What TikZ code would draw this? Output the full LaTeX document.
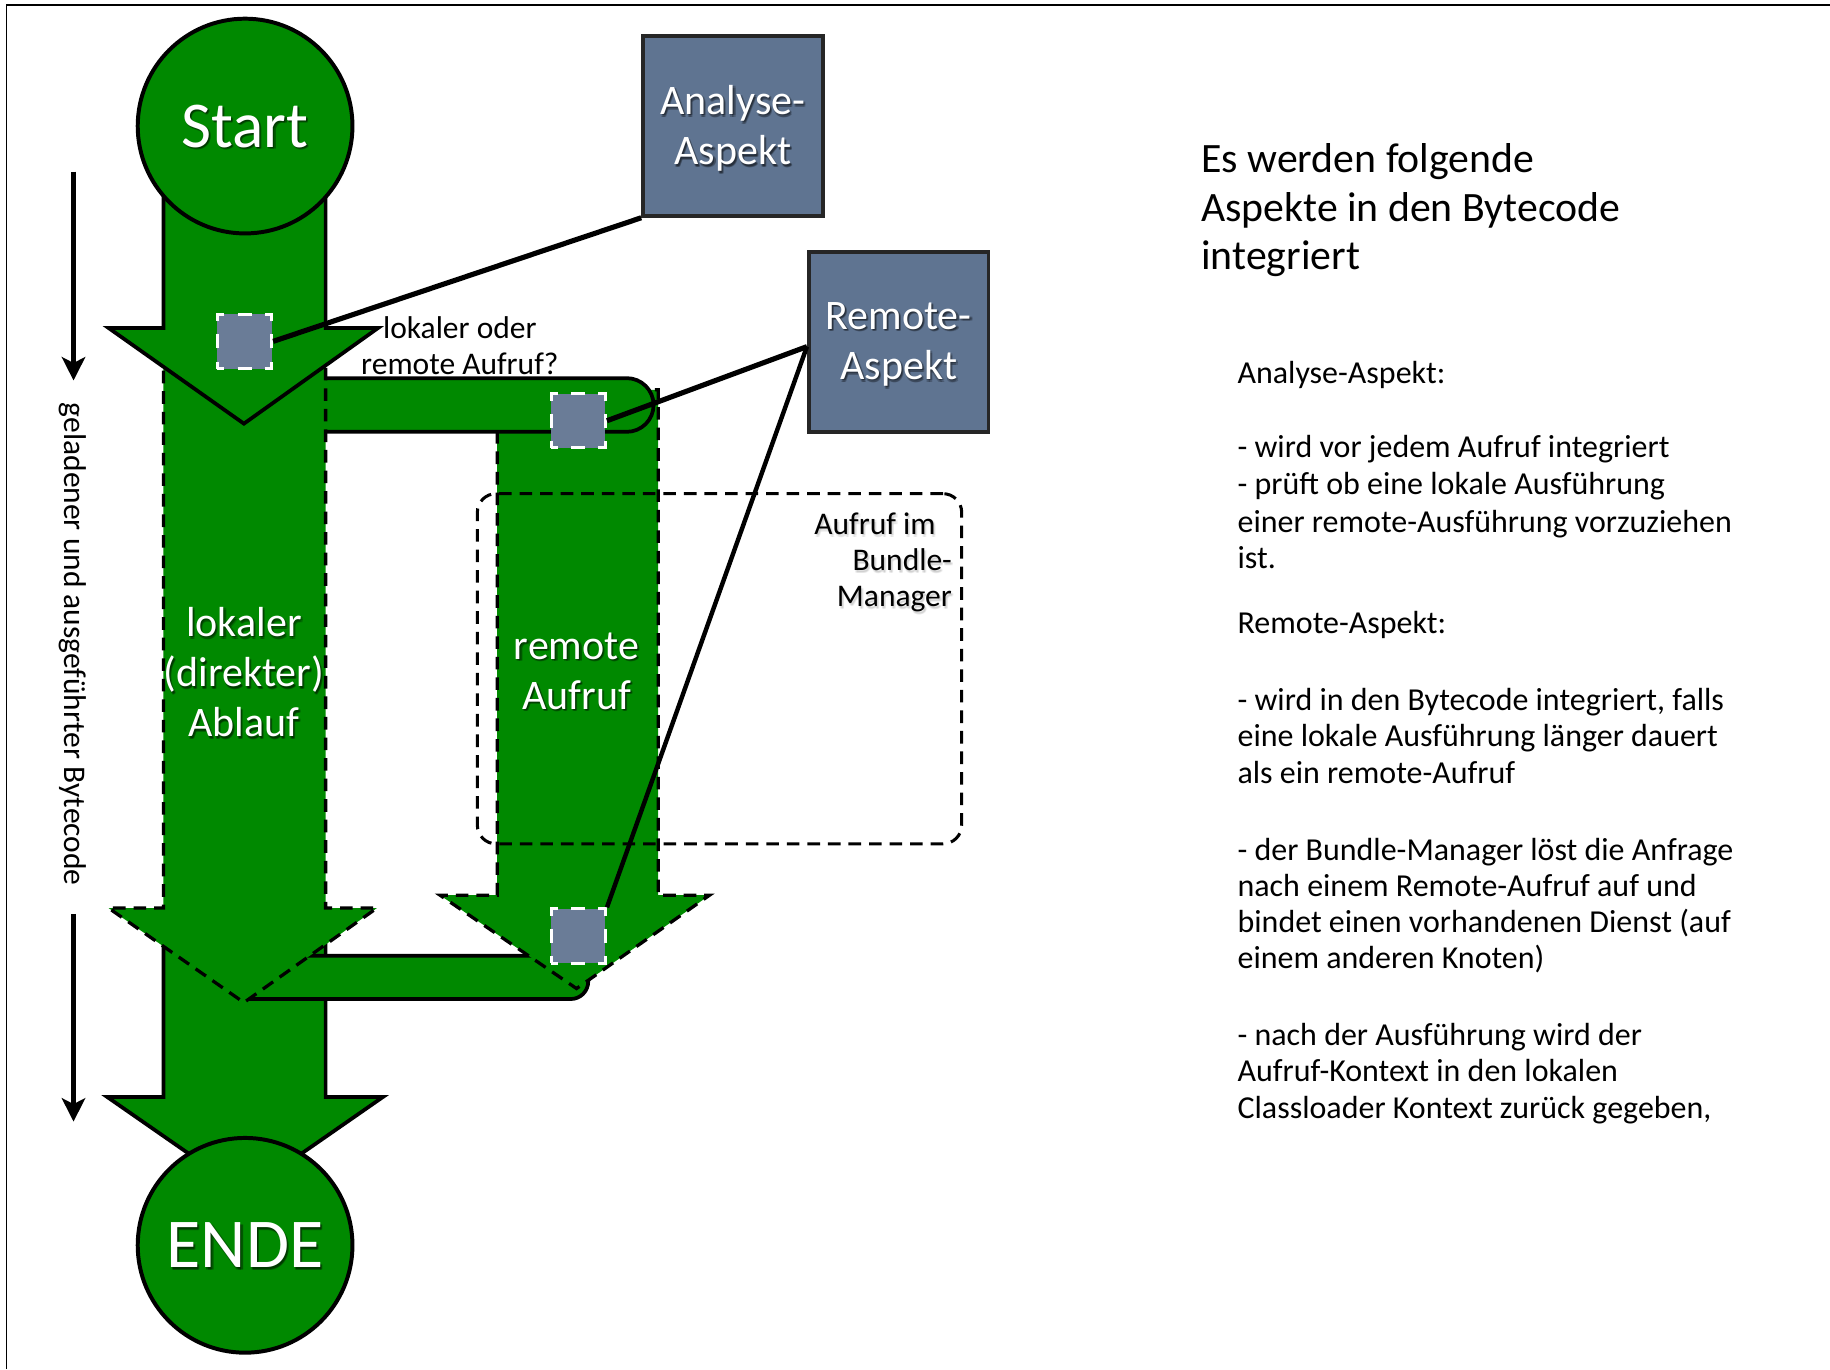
\documentclass[tikz,border=0pt]{standalone}
\usepackage{fontspec}
\setmainfont{Carlito}
\usetikzlibrary{arrows.meta}

\definecolor{flowgreen}{RGB}{0,137,0}
\definecolor{aspectblue}{RGB}{95,116,145}
\definecolor{markblue}{RGB}{106,124,151}

\tikzset{
  flowsolid/.style={fill=flowgreen, draw=black, line width=1.6pt, line join=miter},
  flowdashed/.style={fill=flowgreen, draw=black, line width=1.4pt, dash pattern=on 5.4pt off 3.4pt},
  terminal/.style={circle, fill=flowgreen, draw=black, line width=1.7pt, minimum size=92pt, inner sep=0pt},
  aspectbox/.style={rectangle, fill=aspectblue, draw=black!85, line width=1.6pt, minimum size=77pt, inner sep=0pt},
  marker/.style={rectangle, fill=markblue, draw=white, line width=1.3pt,
    dash pattern=on 6pt off 5.625pt, dash phase=3pt, minimum size=23.25pt, inner sep=0pt},
  regionbox/.style={rectangle, draw=black, line width=1.3pt, dash pattern=on 5.4pt off 3.4pt,
    rounded corners=8pt, minimum width=207.5pt, minimum height=150pt, inner sep=0pt},
  link/.style={draw=black, line width=2.2pt},
  timeline/.style={draw=black, line width=1.9pt, -{Stealth[length=10pt,width=10pt,inset=2.5pt]}},
  bigword/.style={text=white, inner sep=0pt, align=center},
  flowword/.style={text=white, inner sep=0pt, align=center, font=\fontsize{18}{21.5}\selectfont},
  smallword/.style={text=black, inner sep=0pt, font=\fontsize{13.5}{15.5}\selectfont},
  titleline/.style={anchor=base west, inner sep=0pt, font=\fontsize{17.9}{20.7}\selectfont},
  bodyline/.style={anchor=base west, inner sep=0pt, font=\fontsize{13.7}{15.8}\selectfont},
}

% a label with a soft cast shadow behind it
\newcommand{\castlabel}[6]{%
  \foreach \dx/\dy in {0.4/-0.6, 0.9/-1.1, 0.4/-1.1, 0.9/-0.6}
    \node[#1, text=#4, text opacity=#5] at ([shift={(\dx pt,\dy pt)}]#3) {#6};
  \node[#1] (#2) at (#3) {#6};
}

\begin{document}
\begin{tikzpicture}[x=0.5pt, y=-0.5pt]
\useasboundingbox (0,0) rectangle (1568,1173);

% page frame (top and left edge)
\draw[line width=0.7pt] (5.5,1173) -- (5.5,4.3) -- (1568,4.3);

% last arrow, running into ENDE
\draw[flowsolid] (140,790) -- (140,940) -- (92,940) -- (210,1022) -- (328,940)
  -- (279,940) -- (279,790) -- cycle;

% return path from the remote call
\draw[flowsolid] (209,819) -- (489,819) arc[start angle=90, end angle=0, radius=7.5pt]
  -- (504,841) arc[start angle=0, end angle=-90, radius=7.5pt] -- (209,856) -- cycle;

% remote branch
\draw[flowdashed] (426,334) -- (426,767) -- (377,767) -- (494,847) -- (608,767)
  -- (564,767) -- (564,334) -- cycle;

% branch off to the remote call
\draw[flowsolid] (250,324) -- (537,324) arc[start angle=90, end angle=-90, radius=11.5pt]
  -- (250,370) -- cycle;

% local (direct) flow
\draw[flowdashed] (140,300) -- (140,778) -- (93,778) -- (209,859) -- (323,778)
  -- (279,778) -- (279,300) -- cycle;

% first arrow below Start
\draw[flowsolid] (140,150) -- (140,281) -- (93,281) -- (209,363) -- (324,281)
  -- (279,281) -- (279,150) -- cycle;

% start and end
\node[terminal] (start) at (210,108) {};
\node[terminal] (ende) at (210,1067) {};
\castlabel{bigword, font=\fontsize{28}{32}\selectfont}{startlabel}{210,108}{black}{0.2}{Start}
\castlabel{bigword, font=\fontsize{30}{34}\selectfont}{endelabel}{210,1067}{black}{0.2}{ENDE}

% region of the bundle manager
\node[regionbox] (bundle) at (616.5,573) {};

% aspects
\node[aspectbox] (analyse) at (628,108) {};
\node[aspectbox] (remote) at (770,293) {};
\castlabel{flowword}{analyselabel}{628,110}{black}{0.2}{Analyse-\\Aspekt}
\castlabel{flowword}{remotelabel}{770,295}{black}{0.2}{Remote-\\Aspekt}

% woven-in points
\node[marker] (sqA) at (209.5,292.5) {};
\node[marker] (sqB) at (495.5,360.5) {};
\node[marker] (sqC) at (495.5,802) {};

% links from the aspects to their points
\coordinate (remotetap) at ([yshift=-2pt]remote.west);
\draw[link] (analyse.south west) -- (sqA.east);
\draw[link] (remotetap) -- (sqB.east);
\draw[link, line width=1.9pt] (remotetap) -- (sqC.north east);

% flow labels
\castlabel{flowword}{locallabel}{209,576}{black}{0.2}{lokaler\\(direkter)\\Ablauf}
\castlabel{flowword}{remotecalllabel}{494,575}{black}{0.2}{remote\\Aufruf}
\node[smallword, align=center] (question) at (394,296) {lokaler oder\\remote Aufruf?};
\castlabel{smallword, align=right, anchor=east}{bundlelabel}{816,482}{black!45}{0.12}{Aufruf im\hspace*{7pt}\\Bundle-\\Manager}

% time axis
\coordinate (axisAtop) at (63,147);
\coordinate (axisAbot) at (63,326);
\coordinate (axisBtop) at (63,783);
\coordinate (axisBbot) at (63,961);
\draw[timeline] (axisAtop) -- (axisAbot);
\draw[timeline] (axisBtop) -- (axisBbot);
\node[smallword, rotate=-90, font=\fontsize{13.5}{15.5}\selectfont] (axislabel) at (62,552)
  {geladener und ausgeführter Bytecode};

% explanation
\foreach \y/\t [count=\i] in {148/{Es werden folgende}, 189.5/{Aspekte in den Bytecode}, 231/{integriert}}
  \node[titleline] (title\i) at (1029,\y) {\t};

\foreach \y/\t [count=\i] in {
  329/{Analyse-Aspekt:},
  392/{- wird vor jedem Aufruf integriert},
  423.5/{- prüft ob eine lokale Ausführung},
  456/{einer remote-Ausführung vorzuziehen},
  487.5/{ist.},
  543/{Remote-Aspekt:},
  609/{- wird in den Bytecode integriert, falls},
  640/{eine lokale Ausführung länger dauert},
  671/{als ein remote-Aufruf},
  737/{- der Bundle-Manager löst die Anfrage},
  768/{nach einem Remote-Aufruf auf und},
  799/{bindet einen vorhandenen Dienst (auf},
  830/{einem anderen Knoten)},
  896/{- nach der Ausführung wird der},
  927/{Aufruf-Kontext in den lokalen},
  958/{Classloader Kontext zurück gegeben,}}
  \node[bodyline] (body\i) at (1060,\y) {\t};

\end{tikzpicture}
\end{document}
